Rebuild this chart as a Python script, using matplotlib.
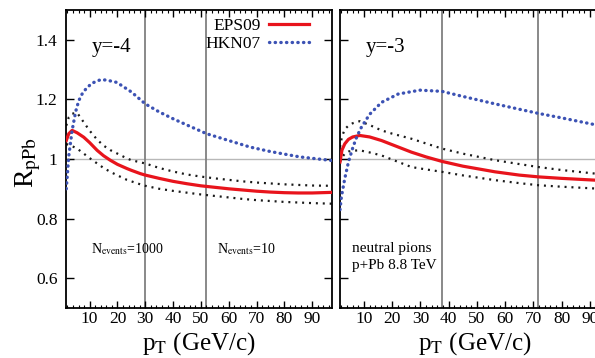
import matplotlib.pyplot as plt
from matplotlib.ticker import MultipleLocator

plt.rcParams['font.family'] = ['Liberation Serif', 'DejaVu Serif']
plt.rcParams['mathtext.fontset'] = 'stix'

# y = -4 panel
pt_l = [1.6, 2.5, 3.7, 5.5, 7.9, 10, 12.7, 15, 17.4, 20, 23.4, 25, 28.2, 30, 35, 40, 45, 50, 55, 60, 65, 70, 75, 80, 85, 90, 97]
eps_l = [1.062, 1.085, 1.096, 1.088, 1.073, 1.055, 1.029, 1.011, 0.996, 0.982, 0.968, 0.962, 0.951, 0.946, 0.935, 0.925, 0.917, 0.910, 0.905, 0.900, 0.896, 0.892, 0.889, 0.887, 0.886, 0.886, 0.888]
up_l = [1.112, 1.140, 1.152, 1.155, 1.123, 1.095, 1.065, 1.045, 1.030, 1.018, 1.002, 0.996, 0.989, 0.985, 0.970, 0.958, 0.948, 0.941, 0.935, 0.930, 0.925, 0.921, 0.918, 0.915, 0.913, 0.911, 0.910]
lo_l = [1.050, 1.048, 1.043, 1.035, 1.018, 1.003, 0.985, 0.970, 0.957, 0.945, 0.930, 0.925, 0.915, 0.910, 0.900, 0.893, 0.887, 0.881, 0.876, 0.871, 0.866, 0.862, 0.859, 0.856, 0.854, 0.852, 0.850]
pt_hl = [1.6, 2.5, 3.7, 5, 6.1, 7.5, 9.1, 11, 13.9, 16, 19.8, 25, 30, 35, 40, 45, 52, 60, 67.7, 75, 85.6, 97]
hkn_l = [0.900, 1.010, 1.096, 1.160, 1.196, 1.222, 1.240, 1.255, 1.266, 1.265, 1.257, 1.225, 1.185, 1.158, 1.135, 1.114, 1.085, 1.062, 1.040, 1.025, 1.007, 0.995]

# y = -3 panel
pt_r = [1.5, 2.2, 3.2, 4.5, 6, 8.5, 12, 16.2, 20, 26.8, 32, 37.6, 45, 56.4, 65, 71.8, 80, 91.9, 97]
eps_r = [0.990, 1.030, 1.051, 1.066, 1.074, 1.079, 1.074, 1.062, 1.048, 1.023, 1.007, 0.992, 0.976, 0.957, 0.946, 0.940, 0.935, 0.929, 0.927]
up_r = [1.040, 1.075, 1.100, 1.112, 1.120, 1.127, 1.114, 1.096, 1.085, 1.068, 1.052, 1.035, 1.018, 0.996, 0.983, 0.973, 0.963, 0.951, 0.947]
lo_r = [0.990, 1.005, 1.018, 1.025, 1.028, 1.029, 1.022, 1.012, 0.998, 0.973, 0.965, 0.957, 0.945, 0.929, 0.919, 0.912, 0.907, 0.901, 0.899]
pt_hr = [1.5, 2, 3.2, 4.5, 6.1, 7.5, 9.1, 12, 16.2, 22.1, 29.8, 37.6, 45, 56.4, 65, 71.8, 80, 91.9, 97]
hkn_r = [0.830, 0.873, 0.935, 0.990, 1.040, 1.076, 1.107, 1.150, 1.190, 1.218, 1.231, 1.227, 1.210, 1.185, 1.167, 1.153, 1.138, 1.115, 1.105]

vlines_l = [30, 52]
vlines_r = [37.6, 71.8]

fig = plt.figure(figsize=(5.95, 3.58), dpi=100)
W, H = 595.0, 358.0
ax1 = fig.add_axes([66 / W, 1 - 308 / H, 265.6 / W, 298 / H])
ax2 = fig.add_axes([340 / W, 1 - 308 / H, 269.6 / W, 298 / H])

red = '#e8141c'
blue = '#3c52b4'

for ax, pe, e, u, lo, ph, h, vl in [
        (ax1, pt_l, eps_l, up_l, lo_l, pt_hl, hkn_l, vlines_l),
        (ax2, pt_r, eps_r, up_r, lo_r, pt_hr, hkn_r, vlines_r)]:
    ax.axhline(1.0, color='#b8b8b8', lw=1.0, zorder=1)
    for v in vl:
        ax.axvline(v, color='#808080', lw=1.3, zorder=1)
    ax.plot(pe, u, color='#1a1a1a', lw=1.6, ls=(0, (0.9, 2.2)), zorder=2)
    ax.plot(pe, lo, color='#1a1a1a', lw=1.6, ls=(0, (0.9, 2.2)), zorder=2)
    ax.plot(pe, e, color=red, lw=2.3, zorder=3, label='EPS09')
    ax.plot(ph, h, color=blue, lw=2.4, ls=(0, (0.1, 1.6)),
            dash_capstyle='round', zorder=3, label='HKN07')
    ax.set_xlim(1.5, 97)
    ax.set_ylim(0.5, 1.5)
    ax.xaxis.set_major_locator(MultipleLocator(10))
    ax.xaxis.set_minor_locator(MultipleLocator(2))
    ax.yaxis.set_major_locator(MultipleLocator(0.2))
    ax.tick_params(which='both', direction='in', top=True, right=True)
    ax.tick_params(which='major', length=5, width=1)
    ax.tick_params(which='minor', length=2.5, width=0.8)
    ax.tick_params(axis='y', which='major', length=6)
    ax.tick_params(labelsize=12.5)
    ax.tick_params(axis='x', pad=2.5)
    ax.tick_params(axis='y', pad=6)
    for s in ax.spines.values():
        s.set_linewidth(1.3)
    ax.set_xticks(range(10, 100, 10))
    ax.set_xlabel(r'p$_{\mathrm{T}}$ (GeV/c)', fontsize=18, labelpad=2)

ax1.set_yticks([0.6, 0.8, 1.0, 1.2, 1.4])
ax1.set_yticklabels(['0.6', '0.8', '1', '1.2', '1.4'])
ax2.set_yticks([0.6, 0.8, 1.0, 1.2, 1.4])
ax2.set_yticklabels([])
ax1.set_ylabel(r'R$_{\mathrm{pPb}}$', fontsize=20)
ax1.yaxis.set_label_coords(-0.088, 0.487)

leg = ax1.legend(loc='upper right', bbox_to_anchor=(0.955, 1.008), frameon=False,
                 fontsize=12.5, markerfirst=False, handlelength=2.3,
                 handletextpad=0.5, labelspacing=0.1, borderaxespad=0.2)

ax1.text(0.095, 0.86, 'y=-4', transform=ax1.transAxes, fontsize=15)
ax2.text(0.095, 0.86, 'y=-3', transform=ax2.transAxes, fontsize=15)
ax1.text(0.095, 0.183, r'N$_{\mathrm{events}}$=1000', transform=ax1.transAxes, fontsize=10)
ax1.text(0.57, 0.183, r'N$_{\mathrm{events}}$=10', transform=ax1.transAxes, fontsize=10)
ax2.text(0.045, 0.12, 'neutral pions\np+Pb 8.8 TeV', transform=ax2.transAxes,
         fontsize=11, linespacing=1.45, va='bottom')

fig.savefig('out.png', dpi=100)
